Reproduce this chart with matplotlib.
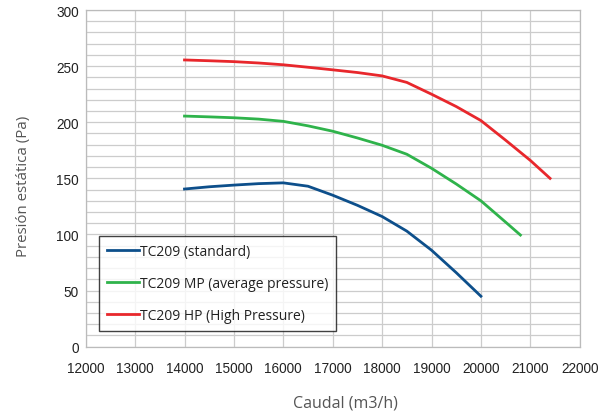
import matplotlib.pyplot as plt
from matplotlib.ticker import MultipleLocator

# flow (m3/h) and static pressure (Pa) per model
std_flow = [14000, 14500, 15000, 15500, 16000, 16500, 17000, 17500, 18000, 18500, 19000, 19500, 20000]
std_pa = [140.5, 142.5, 144, 145.3, 146, 143, 135, 126, 116, 103, 86, 66, 45]

mp_flow = [14000, 14500, 15000, 15500, 16000, 16500, 17000, 17500, 18000, 18500, 19000, 19500, 20000, 20500, 20800]
mp_pa = [205.5, 204.8, 204, 202.8, 200.8, 196.8, 192, 186, 179.5, 171.5, 159, 145, 130, 111, 99.5]

hp_flow = [14000, 14500, 15000, 15500, 16000, 16500, 17000, 17500, 18000, 18500, 19000, 19500, 20000, 20500, 21000, 21400]
hp_pa = [255.5, 254.8, 254, 252.8, 251.2, 249, 246.7, 244.3, 241.3, 235.5, 225, 214, 201.5, 184, 166, 150]

labels = ['TC209 (standard)', 'TC209 MP (average pressure)', 'TC209 HP (High Pressure)']
colors = ['#0d4f8b', '#2fb34b', '#e8272c']

fig = plt.figure(figsize=(6.13, 4.14), dpi=100)
ax = fig.add_axes([0.1398, 0.1601, 0.8059, 0.8133])

ax.plot(std_flow, std_pa, color=colors[0], lw=2.0, label=labels[0])
ax.plot(mp_flow, mp_pa, color=colors[1], lw=2.0, label=labels[1])
ax.plot(hp_flow, hp_pa, color=colors[2], lw=2.0, label=labels[2])

ax.set_xlim(12000, 22000)
ax.set_ylim(0, 300)
ax.xaxis.set_major_locator(MultipleLocator(1000))
ax.yaxis.set_major_locator(MultipleLocator(50))
ax.yaxis.set_minor_locator(MultipleLocator(10))
ax.grid(True, which='both', color='#cccccc', lw=0.9)
ax.set_axisbelow(True)
ax.tick_params(which='both', length=0, labelsize=9.8, colors='#222222')
ax.tick_params(axis='x', pad=10)
ax.tick_params(axis='y', pad=5)
for lab in ax.get_xticklabels() + ax.get_yticklabels():
    lab.set_family('Liberation Sans')
for s in ax.spines.values():
    s.set_color('#bbbbbb')
    s.set_linewidth(0.9)

ax.set_xlabel('Caudal (m3/h)', family='Open Sans', fontsize=11.5, color='#555555')
ax.set_ylabel('Presión estática (Pa)', family='Open Sans', fontsize=10.8, color='#555555')
ax.xaxis.set_label_coords(0.525, -0.142)
ax.yaxis.set_label_coords(-0.111, 0.478)

leg = ax.legend(loc='lower left', bbox_to_anchor=(0.027, 0.047), fancybox=False, frameon=True,
                edgecolor='#111111', handlelength=2.3, handletextpad=0.12, labelspacing=1.24,
                borderpad=0.55, borderaxespad=0.0, prop={'family': 'Open Sans', 'size': 10})
leg.get_frame().set_linewidth(1.0)
for t in leg.get_texts():
    t.set_color('#222222')

plt.savefig('out.png', dpi=100)
plt.close()
